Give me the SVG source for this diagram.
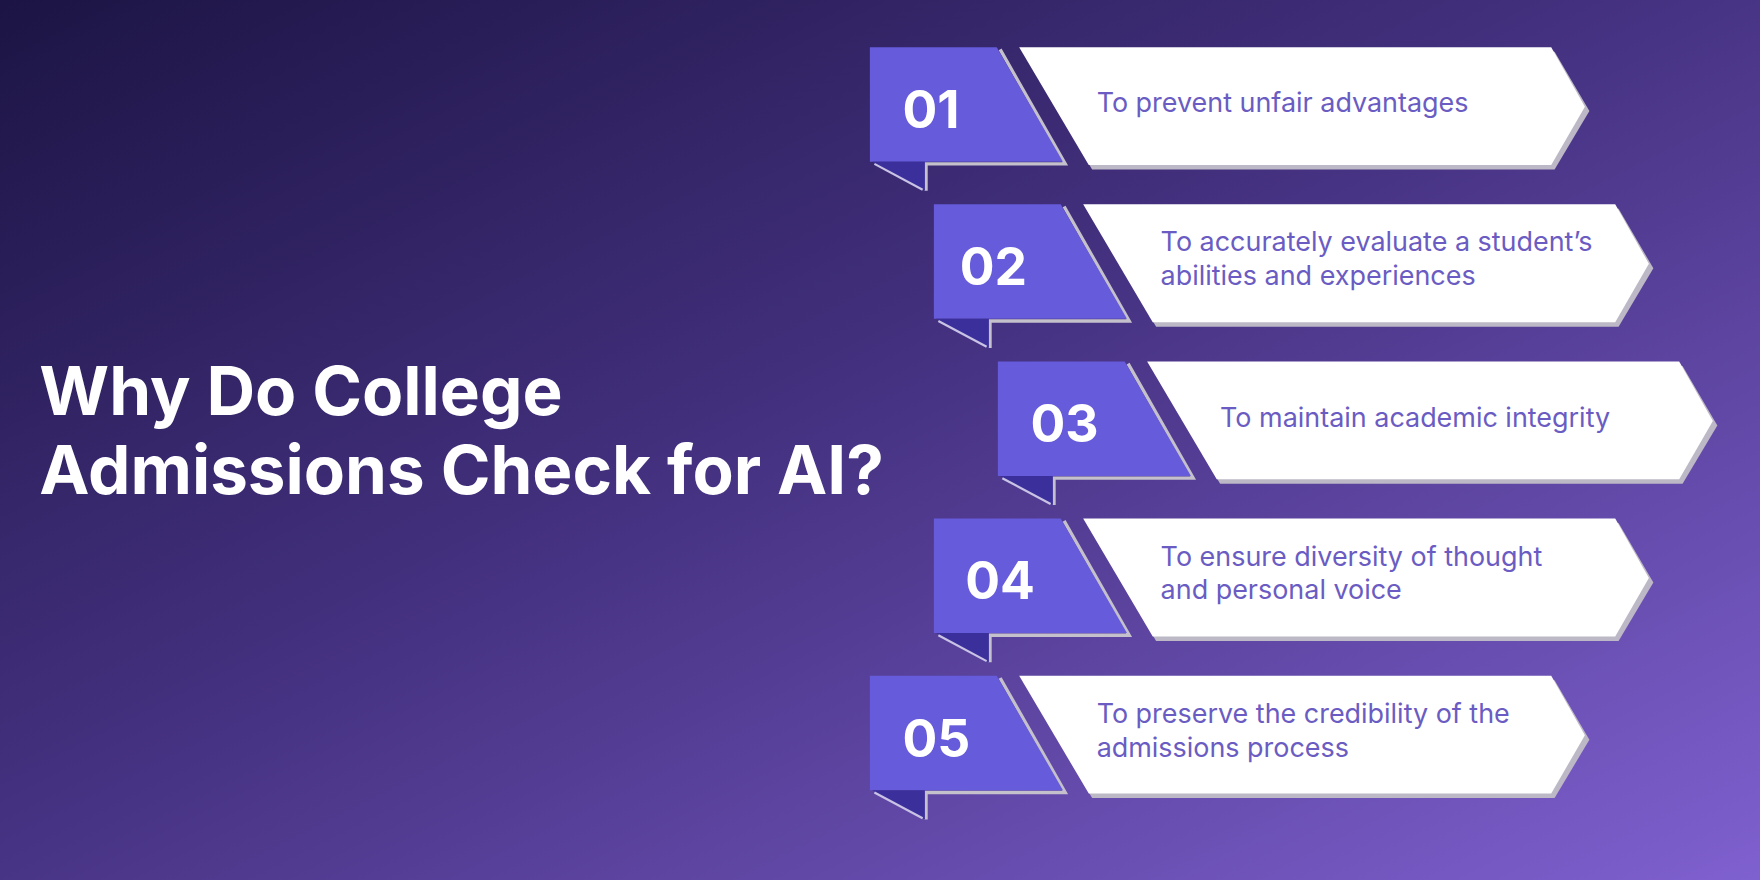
<svg xmlns="http://www.w3.org/2000/svg" width="1760" height="880" viewBox="0 0 1760 880">
<defs>
<linearGradient id="bg" x1="0" y1="0" x2="1" y2="1">
<stop offset="0" stop-color="#1c1444"/>
<stop offset="0.45" stop-color="#43307e"/>
<stop offset="1" stop-color="#7f60cf"/>
</linearGradient>
<g id="shape">
<polygon points="136,4 610,4 641,57 610,109 198,109" fill="#bdb8c6"/>
<polygon points="133,0 607,0 637,53 607,105 195,105" fill="#ffffff"/>
<path d="M116,2 L174,104 L50,104 L50,128" fill="none" stroke="#c4c0cc" stroke-width="3"/>
<polygon points="0,0 113,0 172,102 0,102" fill="#655bdb"/>
<polygon points="2,102 49,102 49,128" fill="#3b2f9c"/>
<line x1="4" y1="104" x2="47" y2="127" stroke="#c9c3e6" stroke-width="2"/>
</g>
<style>
.num{font-family:Inter,"Liberation Sans",sans-serif;font-weight:700;font-size:46px;fill:#ffffff}
.txt{font-family:Inter,"Liberation Sans",sans-serif;font-size:24px;fill:#6a5cc2}
.title{font-family:Inter,"Liberation Sans",sans-serif;font-weight:700;font-size:60px;fill:#ffffff}
</style>
</defs>
<rect width="1760" height="880" fill="url(#bg)"/>
<g transform="scale(1.12245)">
<g id="title">
<text class="title" x="35" y="370">Why Do College</text>
<text class="title" x="35" y="440">Admissions Check for AI?</text>
</g>
<g id="connectors"/>
<g id="row1" transform="translate(775,42)">
<use href="#shape"/>
<text class="num" x="29" y="72">01</text>
<text class="txt" x="202" y="58">To prevent unfair advantages</text>
</g>
<g id="row2" transform="translate(832,182)">
<use href="#shape"/>
<text class="num" x="23" y="72">02</text>
<text class="txt" x="202" y="42">To accurately evaluate a student’s</text>
<text class="txt" x="202" y="72">abilities and experiences</text>
</g>
<g id="row3" transform="translate(889,322)">
<use href="#shape"/>
<text class="num" x="29" y="72">03</text>
<text class="txt" x="198" y="58">To maintain academic integrity</text>
</g>
<g id="row4" transform="translate(832,462)">
<use href="#shape"/>
<text class="num" x="28" y="72">04</text>
<text class="txt" x="202" y="42">To ensure diversity of thought</text>
<text class="txt" x="202" y="72">and personal voice</text>
</g>
<g id="row5" transform="translate(775,602)">
<use href="#shape"/>
<text class="num" x="29" y="72">05</text>
<text class="txt" x="202" y="42">To preserve the credibility of the</text>
<text class="txt" x="202" y="72">admissions process</text>
</g>
</g>
</svg>
